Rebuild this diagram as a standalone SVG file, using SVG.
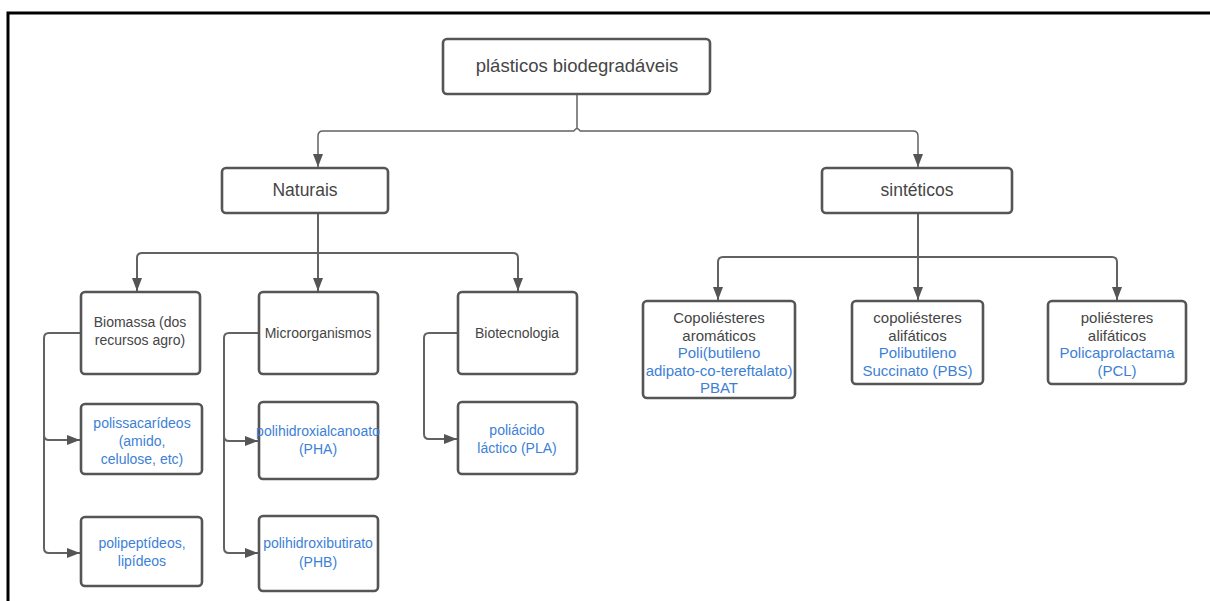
<svg xmlns="http://www.w3.org/2000/svg" width="1210" height="601" viewBox="0 0 1210 601">
<style>
.box{fill:#fff;stroke:#555;stroke-width:2.6}
.t{font-family:"Liberation Sans",Arial,sans-serif;fill:#454545;text-anchor:middle}
.b{fill:#3d7fd6}
.s14{font-size:14px}
.s15{font-size:15px}
.c{fill:none;stroke:#626262;stroke-width:2;stroke-linejoin:round}
</style>
<defs>
<marker id="ah" markerUnits="userSpaceOnUse" markerWidth="14" markerHeight="14" viewBox="0 0 14 14" refX="13" refY="7" orient="auto">
<path d="M0,2 L13,7 L0,12 Z" fill="#555"/>
</marker>
</defs>
<rect width="1210" height="601" fill="#fff"/>
<path d="M8,601 V13 H1210" fill="none" stroke="#000" stroke-width="3"/>

<g id="connectors">
<path class="c" style="stroke-width:1.5" d="M577,94 V128"/>
<path class="c" style="stroke-width:1.5" d="M574,131 H323 Q318,131 318,136 V167" marker-end="url(#ah)"/>
<path class="c" style="stroke-width:1.5" d="M580,131 H913 Q918,131 918,136 V167" marker-end="url(#ah)"/>
<path class="c" style="stroke-width:1.5" d="M574,131 Q577,126 580,131"/>
<path class="c" d="M318,213 V253"/>
<path class="c" d="M318,253 H142 Q137,253 137,258 V291" marker-end="url(#ah)"/>
<path class="c" d="M318,253 V291" marker-end="url(#ah)"/>
<path class="c" d="M318,253 H513 Q518,253 518,258 V291" marker-end="url(#ah)"/>
<path class="c" d="M80,333 H49 Q44,333 44,338 V435 Q44,440 49,440 H80" marker-end="url(#ah)"/>
<path class="c" d="M44,436 V548 Q44,553 49,553 H80" marker-end="url(#ah)"/>
<path class="c" d="M259,333 H229 Q224,333 224,338 V436 Q224,441 229,441 H258" marker-end="url(#ah)"/>
<path class="c" d="M224,437 V548 Q224,553 229,553 H258" marker-end="url(#ah)"/>
<path class="c" d="M458,333 H429 Q424,333 424,338 V434 Q424,439 429,439 H457" marker-end="url(#ah)"/>
<path class="c" d="M918,213 V257"/>
<path class="c" d="M918,257 H723 Q718,257 718,262 V300" marker-end="url(#ah)"/>
<path class="c" d="M918,257 V300" marker-end="url(#ah)"/>
<path class="c" d="M918,257 H1112 Q1117,257 1117,262 V300" marker-end="url(#ah)"/>
</g>

<g id="n-root"><rect class="box" x="443" y="39" width="267" height="55" rx="4"/><text class="t" x="577" y="72" font-size="18.5">plásticos biodegradáveis</text></g>
<g id="n-naturais"><rect class="box" x="222" y="168" width="166" height="45" rx="4"/><text class="t" x="305" y="196" font-size="17.5">Naturais</text></g>
<g id="n-sinteticos"><rect class="box" x="822" y="168" width="190" height="45" rx="4"/><text class="t" x="917" y="196" font-size="17.5">sintéticos</text></g>

<g id="n-biomassa"><rect class="box" x="81" y="292" width="119" height="82" rx="4"/><text class="t s14" x="140" y="327">Biomassa (dos</text><text class="t s14" x="140" y="345">recursos agro)</text></g>
<g id="n-micro"><rect class="box" x="259" y="292" width="119" height="82" rx="4"/><text class="t s14" x="318" y="338">Microorganismos</text></g>
<g id="n-biotec"><rect class="box" x="458" y="292" width="119" height="82" rx="4"/><text class="t s14" x="517" y="338">Biotecnologia</text></g>

<g id="n-polissac"><rect class="box" x="81" y="404" width="121" height="70" rx="4"/><text class="t b s14" x="142" y="428">polissacarídeos</text><text class="t b s14" x="142" y="446">(amido,</text><text class="t b s14" x="142" y="464">celulose, etc)</text></g>
<g id="n-polipep"><rect class="box" x="81" y="517" width="121" height="69" rx="4"/><text class="t b s14" x="142" y="548">polipeptídeos,</text><text class="t b s14" x="142" y="566">lipídeos</text></g>
<g id="n-pha"><rect class="box" x="259" y="402" width="119" height="77" rx="4"/><text class="t b" x="318" y="436" font-size="14">polihidroxialcanoato</text><text class="t b s14" x="318" y="454">(PHA)</text></g>
<g id="n-phb"><rect class="box" x="259" y="516" width="119" height="75" rx="4"/><text class="t b" x="318" y="548" font-size="14">polihidroxibutirato</text><text class="t b s14" x="318" y="567">(PHB)</text></g>
<g id="n-pla"><rect class="box" x="458" y="402" width="119" height="72" rx="4"/><text class="t b s14" x="517" y="435">poliácido</text><text class="t b s14" x="517" y="453">láctico (PLA)</text></g>

<g id="n-pbat"><rect class="box" x="643" y="301" width="152" height="97" rx="4"/><text class="t s15" x="719" y="323">Copoliésteres</text><text class="t s15" x="719" y="340.5">aromáticos</text><text class="t b s15" x="719" y="358">Poli(butileno</text><text class="t b s15" x="719" y="375.5">adipato-co-tereftalato)</text><text class="t b s15" x="719" y="393">PBAT</text></g>
<g id="n-pbs"><rect class="box" x="852" y="301" width="131" height="83" rx="4"/><text class="t s15" x="917.5" y="323">copoliésteres</text><text class="t s15" x="917.5" y="340.5">alifáticos</text><text class="t b s15" x="917.5" y="358">Polibutileno</text><text class="t b s15" x="917.5" y="375.5">Succinato (PBS)</text></g>
<g id="n-pcl"><rect class="box" x="1048" y="301" width="138" height="83" rx="4"/><text class="t s15" x="1117" y="323">poliésteres</text><text class="t s15" x="1117" y="340.5">alifáticos</text><text class="t b s15" x="1117" y="358">Policaprolactama</text><text class="t b s15" x="1117" y="375.5">(PCL)</text></g>
</svg>
